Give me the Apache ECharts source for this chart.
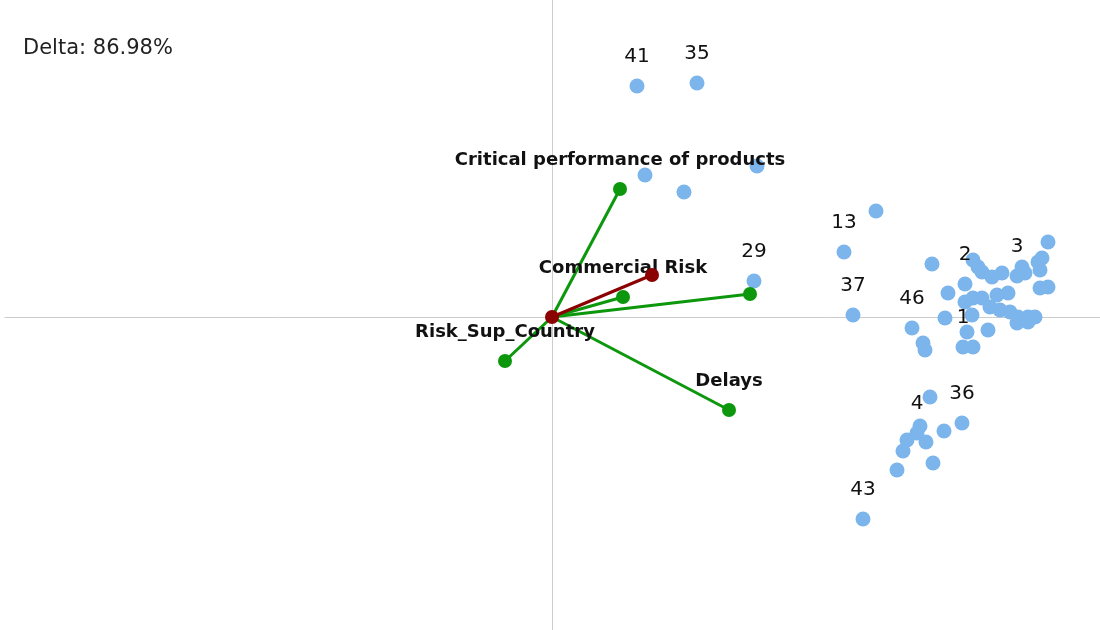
<!DOCTYPE html>
<html>
<head>
<meta charset="utf-8">
<script src="https://cdn.jsdelivr.net/npm/echarts@6/dist/echarts.min.js"></script>
<style>
  html, body { margin: 0; padding: 0; background: #fff; }
  #chart { width: 1100px; height: 630px; }
</style>
</head>
<body>
<div id="chart"></div>
<script>
// observations (x, y, label) on the first two components
const pointLabels = ['41', '35', '13', '29', '37', '46', '2', '3', '1', '4', '36', '43'];
const labeledPoints = [
  [0.85, 2.31], [1.45, 2.34], [2.92, 0.65], [2.02, 0.36], [3.01, 0.02], [3.60, -0.11],
  [4.13, 0.33], [4.65, 0.41], [4.11, -0.30], [3.65, -1.16], [4.10, -1.06], [3.11, -2.02]
];
const otherPoints = [
  [0.93, 1.42], [1.32, 1.25], [2.05, 1.51], [3.24, 1.06], [3.80, 0.53],
  [4.21, 0.57], [4.26, 0.50], [4.30, 0.45], [4.40, 0.40], [4.50, 0.44],
  [4.70, 0.50], [4.73, 0.44], [4.86, 0.55], [4.90, 0.59], [4.88, 0.47],
  [4.96, 0.75], [4.88, 0.29], [4.96, 0.30], [3.96, 0.24], [4.13, 0.15],
  [4.21, 0.19], [4.30, 0.19], [4.45, 0.22], [4.56, 0.24], [4.38, 0.10],
  [4.48, 0.07], [4.58, 0.05], [4.66, 0.00], [4.76, 0.00], [4.83, 0.00],
  [4.65, -0.06], [4.76, -0.05], [4.20, 0.02], [3.93, -0.01], [3.71, -0.26],
  [3.73, -0.33], [4.15, -0.15], [4.36, -0.13], [4.21, -0.30], [3.78, -0.80],
  [3.68, -1.09], [3.92, -1.14], [3.55, -1.23], [3.74, -1.25], [3.51, -1.34],
  [3.81, -1.46], [3.45, -1.53]
];

// variable loadings
const vectorNames = ['Critical performance of products', 'Commercial Risk', '', 'Delays', 'Risk_Sup_Country'];
const vectorEnds = [[0.68, 1.28], [0.71, 0.20], [1.98, 0.23], [1.77, -0.93], [-0.47, -0.44]];
const suppEnd = [1.00, 0.42];

const deltaText = 'Delta: 86.98%';

const blue = '#7cb5ec';
const green = '#0c970c';
const darkRed = '#8b0000';

const chart = echarts.init(document.getElementById('chart'));

const vectorSeries = vectorEnds.map((end, i) => ({
  type: 'line',
  data: [
    { value: [0, 0], symbolSize: 0, label: { show: false } },
    { value: end, label: { show: !!vectorNames[i], formatter: vectorNames[i] } }
  ],
  symbol: 'circle',
  symbolSize: 14,
  lineStyle: { color: green, width: 3 },
  itemStyle: { color: green },
  label: {
    position: 'top',
    distance: 13,
    color: '#111',
    fontFamily: 'DejaVu Sans',
    fontWeight: 'bold',
    fontSize: 18
  },
  z: 3
}));

const option = {
  animation: false,
  backgroundColor: '#fff',
  title: {
    text: deltaText,
    left: 18,
    top: 33,
    textStyle: { fontFamily: 'DejaVu Sans', fontWeight: 'normal', fontSize: 21, color: '#222' }
  },
  grid: { left: 5, right: 0, top: 0, bottom: 0 },
  xAxis: {
    type: 'value',
    min: -5.47,
    max: 5.48,
    axisLine: { onZero: true, lineStyle: { color: '#cccccc', width: 1 } },
    axisTick: { show: false },
    axisLabel: { show: false },
    splitLine: { show: false }
  },
  yAxis: {
    type: 'value',
    min: -3.13,
    max: 3.17,
    axisLine: { onZero: true, lineStyle: { color: '#cccccc', width: 1 } },
    axisTick: { show: false },
    axisLabel: { show: false },
    splitLine: { show: false }
  },
  series: [
    {
      type: 'scatter',
      data: otherPoints,
      symbolSize: 15,
      itemStyle: { color: blue, opacity: 1 },
      z: 2
    },
    {
      type: 'scatter',
      data: labeledPoints.map((p, i) => ({ value: p, name: pointLabels[i] })),
      symbolSize: 15,
      itemStyle: { color: blue, opacity: 1 },
      label: {
        show: true,
        position: 'top',
        distance: 12,
        formatter: '{b}',
        color: '#111',
        fontFamily: 'DejaVu Sans',
        fontSize: 20
      },
      z: 2
    },
    ...vectorSeries,
    {
      type: 'line',
      data: [[0, 0], suppEnd],
      symbol: 'circle',
      symbolSize: 14,
      lineStyle: { color: darkRed, width: 3 },
      itemStyle: { color: darkRed },
      z: 4
    }
  ]
};

chart.setOption(option);
</script>
</body>
</html>
